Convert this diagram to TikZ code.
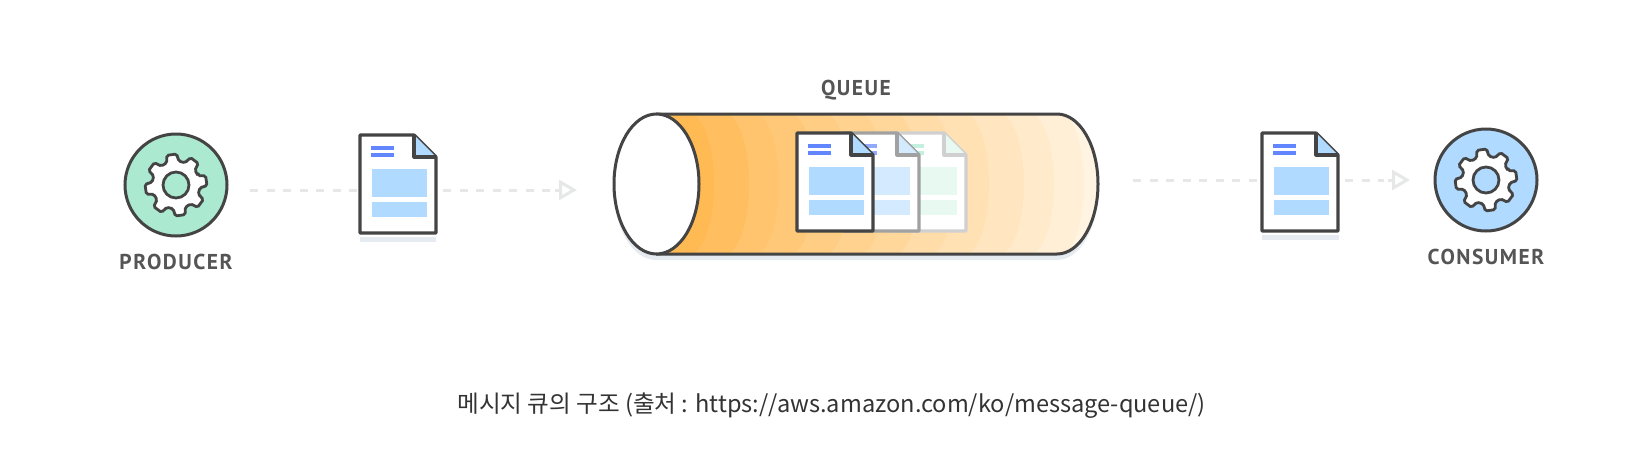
\documentclass[tikz,border=0pt]{standalone}
\usepackage{fontspec}
\newfontfamily\tagfont[LetterSpace=7]{PT Sans}
\newfontfamily\cjk{Noto Sans CJK KR}
\usepackage{xcolor}
\usetikzlibrary{
	arrows.meta,
	calc,
	positioning,
	shapes.geometric
}
\definecolor{InkGray}{RGB}{68,68,68}
\definecolor{LabelGray}{RGB}{85,85,85}
\definecolor{DashGray}{RGB}{230,232,232}
\definecolor{ShadowBlue}{RGB}{230,234,241}
\definecolor{MintFill}{RGB}{171,233,209}
\definecolor{SkyFill}{RGB}{176,218,255}
\definecolor{LineBlue}{RGB}{98,134,255}
\definecolor{TubeDeep}{RGB}{255,181,72}
\definecolor{TubePale}{RGB}{255,244,226}
\tikzset{
	agent/.style={circle, draw=InkGray, line width=3pt, minimum size=102pt, inner sep=0pt},
	tag/.style={text=LabelGray, font=\tagfont\bfseries\fontsize{21.5}{21.5}\selectfont, inner sep=0pt},
	flow/.style={DashGray, line width=3pt, dash pattern=on 8pt off 8.5pt},
	flowtip/.style={DashGray, line width=3pt, -{Triangle[open, length=18pt, width=20pt]}},
	page/.style={minimum width=76pt, minimum height=98pt, inner sep=0pt, anchor=north west}
}
% gear: centre, hole colour
\newcommand{\gearicon}[2]{
	\begin{scope}[shift={(#1)}]
		\draw[InkGray, fill=white, line width=2.8pt, rounded corners=1.6pt] (-23:24)
			\foreach \a in {-8,37,...,307} {
				-- ({\a-15}:24) -- ({\a-9}:31) -- ({\a+9}:31) -- ({\a+15}:24)
			} -- cycle;
		\draw[InkGray, fill=#2, line width=2.8pt] (0,0) circle (13);
	\end{scope}
}
% page: name, top left, border, lines, blocks, corner
\newcommand{\docpage}[6]{
	\node[page] (#1) at (#2) {};
	\begin{scope}[shift={(#2)}]
		\draw[#3, fill=white, line width=3.2pt, line join=round] (0,0) -- (54,0) -- (76,22) -- (76,98) -- (0,98) -- cycle;
		\fill[#6] (54,0) -- (54,22) -- (76,22) -- cycle;
		\draw[#3, line width=3.2pt, line join=round] (54,0) -- (54,22) -- (76,22);
		\draw[#4, line width=3.4pt] (11,13) -- (34,13) (11,20) -- (34,20);
		\fill[#5] (12,34) rectangle (67,62);
		\fill[#5] (12,67) rectangle (67,82);
	\end{scope}
}

\begin{document}
\begin{tikzpicture}[x=1pt, y=-1pt]
	\useasboundingbox (0,0) rectangle (1642,458);
	\fill[white] (0,0) rectangle (1642,458);

	% producer
	\node[agent, fill=MintFill] (producer) at (176,185) {};
	\gearicon{176,185}{MintFill}
	\node[tag] (producerlabel) at (176,262) {PRODUCER};

	% first page and its arrow
	\fill[ShadowBlue] (360,237) rectangle (436,242);
	\docpage{pageone}{360,135}{InkGray}{LineBlue}{SkyFill}{SkyFill}
	\coordinate (flowastart) at (250,190);
	\coordinate (flowatip) at (577,190);
	\draw[flow] (flowastart) -- (flowastart -| pageone.west);
	\draw[flow] (pageone.east |- flowatip) ++(7,0) -- (553,190);
	\draw[flowtip] (555,190) -- (flowatip);

	% queue
	\node[tag] (queuelabel) at (856,90.5) {QUEUE};
	\fill[ShadowBlue] (656,120) -- (1057,120) arc[start angle=-90, end angle=90, x radius=41, y radius=70] -- (656,260) arc[start angle=90, end angle=270, x radius=42, y radius=70] -- cycle;
	\begin{scope}
		\clip (656,114) -- (1057,114) arc[start angle=-90, end angle=90, x radius=41, y radius=70] -- (656,254) -- cycle;
		\fill[TubePale] (656,114) rectangle (1100,254);
		\foreach \n/\p in {1060/8,1030/15,1000/22,965/30,930/38,895/46,860/54,825/62,790/69,755/76,725/84,690/92,665/100} {
			\fill[TubeDeep!\p!TubePale] (640,114) -- (\n,114) arc[start angle=-90, end angle=90, x radius=24, y radius=70] -- (640,254) -- cycle;
		}
	\end{scope}
	\draw[InkGray, line width=3pt] (656,114) -- (1057,114) arc[start angle=-90, end angle=90, x radius=41, y radius=70] -- (656,254);
	\node[ellipse, draw=InkGray, fill=white, line width=3pt, minimum width=85pt, minimum height=140pt, inner sep=0pt] (mouth) at (656.5,184) {};

	% pages inside the queue
	\docpage{pagefour}{890,133}{InkGray!25}{MintFill!70}{MintFill!28}{MintFill!28}
	\docpage{pagethree}{843,133}{InkGray!50}{LineBlue!70}{SkyFill!55}{SkyFill!55}
	\docpage{pagetwo}{797,133}{InkGray}{LineBlue}{SkyFill}{SkyFill}

	% second page and its arrow
	\fill[ShadowBlue] (1262,235) rectangle (1339,240);
	\coordinate (flowbstart) at (1133,180);
	\coordinate (flowbtip) at (1410,180);
	\docpage{pagefive}{1262,133}{InkGray}{LineBlue}{SkyFill}{SkyFill}
	\draw[flow] (flowbstart) -- (flowbstart -| pagefive.west);
	\draw[flow] (pagefive.east |- flowbtip) ++(7,0) -- (1384,180);
	\draw[flowtip] (1388,180) -- (flowbtip);

	% consumer
	\node[agent, fill=SkyFill] (consumer) at (1486,180) {};
	\gearicon{1486,180}{SkyFill}
	\node[tag] (consumerlabel) at (1486,257) {CONSUMER};

	% caption
	\node[inner sep=0pt, text=black!80] (caption) at (831.5,405.5) {\cjk\fontsize{23.6}{23.6}\selectfont 메시지 큐의 구조 (출처 : https://aws.amazon.com/ko/message-queue/)};
\end{tikzpicture}
\end{document}
